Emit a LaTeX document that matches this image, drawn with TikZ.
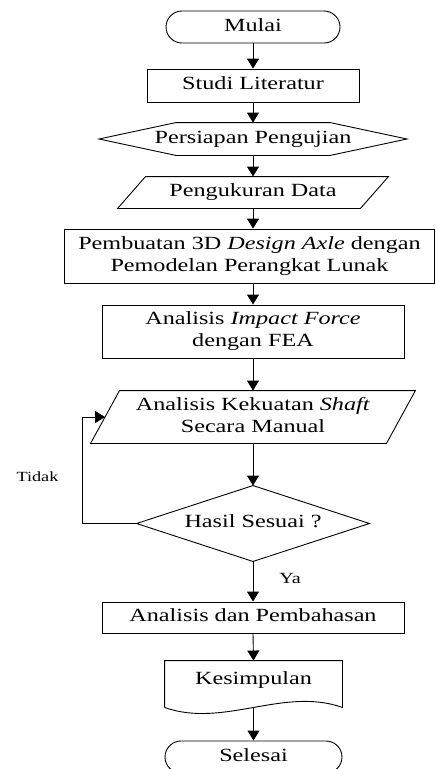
\documentclass[tikz,border=0pt]{standalone}
\usepackage{fontspec}
\usepackage{graphicx}
\setmainfont{Liberation Serif}
\usetikzlibrary{arrows.meta,calc}

% widened serif lettering, one or more centred lines
\newcommand{\wide}[1]{\scalebox{1.3}[1]{\begin{tabular}{@{}c@{}}#1\end{tabular}}}

\tikzset{
  base/.style={rectangle, inner sep=0pt, font=\fontsize{18.6}{21.7}\selectfont},
  procbox/.style={base, draw},
  termbox/.style={base, draw, rounded corners=16pt},
  ghost/.style={base},
  outline/.style={draw, line join=miter},
  arr/.style={-{Triangle[length=10pt,width=12pt]}},
  smalllabel/.style={inner sep=0pt},
}

\begin{document}
\begin{tikzpicture}[x=1pt,y=-1pt,line width=0.9pt]
\fill[white] (0,0) rectangle (436,769);
\useasboundingbox (0,0) rectangle (436,769);

% start
\node[termbox, minimum width=174pt, minimum height=32pt] (mulai) at (253,27) {\wide{Mulai}};

% literature study
\node[procbox, minimum width=212pt, minimum height=33pt] (studi) at (253,85.5) {\wide{Studi Literatur}};

% preparation (hexagon)
\node[ghost, minimum width=307pt, minimum height=32pt] (persiapan) at (253,139) {\wide{Persiapan Pengujian}};
\draw[outline] (persiapan.west) -- ([xshift=-77pt]persiapan.north) -- ([xshift=77pt]persiapan.north)
  -- (persiapan.east) -- ([xshift=77pt]persiapan.south) -- ([xshift=-77pt]persiapan.south) -- cycle;

% data measurement (parallelogram)
\node[ghost, minimum width=270pt, minimum height=31pt] (ukur) at (253,192.5) {\wide{Pengukuran Data}};
\draw[outline] ([xshift=28pt]ukur.north west) -- (ukur.north east)
  -- ([xshift=-28pt]ukur.south east) -- (ukur.south west) -- cycle;

% 3D design
\node[procbox, minimum width=370pt, minimum height=54pt] (desain) at (249.5,256)
  {\wide{Pembuatan 3D \textit{Design Axle} dengan\\Pemodelan Perangkat Lunak}};

% impact force analysis
\node[procbox, minimum width=302pt, minimum height=53pt] (impact) at (253,331.5)
  {\wide{Analisis \textit{Impact Force}\\dengan FEA}};

% manual shaft analysis (parallelogram)
\node[ghost, minimum width=324pt, minimum height=52pt] (kekuatan) at (253,417)
  {\wide{Analisis Kekuatan \textit{Shaft}\\Secara Manual}};
\draw[outline] ([xshift=29pt]kekuatan.north west) -- (kekuatan.north east)
  -- ([xshift=-29pt]kekuatan.south east) -- (kekuatan.south west) -- cycle;
\coordinate (kekL) at ($([xshift=29pt]kekuatan.north west)!0.5!(kekuatan.south west)$);

% decision (diamond)
\node[ghost, minimum width=232pt, minimum height=75pt] (hasil) at (253,523.5) {\wide{Hasil Sesuai ?}};
\draw[outline] (hasil.west) -- (hasil.north) -- (hasil.east) -- (hasil.south) -- cycle;

% discussion
\node[procbox, minimum width=302pt, minimum height=31pt] (bahas) at (253,617.5) {\wide{Analisis dan Pembahasan}};

% conclusion (document shape)
\node[ghost, minimum width=177pt, minimum height=38pt] (simpul) at (253.5,680) {\wide{Kesimpulan}};
\draw[outline] ($(simpul.south west)+(0,8)$) -- (simpul.north west) -- (simpul.north east)
  -- ($(simpul.south east)+(0,8)$)
  .. controls ($(simpul.south east)+(-59,-13)$) and ($(simpul.south west)+(59,29)$) .. ($(simpul.south west)+(0,8)$);
\coordinate (simpulB) at ($(simpul.south)+(0,8)$);

% end
\node[termbox, minimum width=177pt, minimum height=32pt] (selesai) at (253.5,757) {\wide{Selesai}};

% connectors
\draw[arr] (mulai.south) -- (studi.north);
\draw[arr] (studi.south) -- (persiapan.north);
\draw[arr] (persiapan.south) -- (ukur.north);
\draw[arr] (ukur.south) -- (ukur.south |- desain.north);
\draw[arr] (desain.south -| impact.north) -- (impact.north);
\draw[arr] (impact.south) -- (kekuatan.north);
\draw[arr] (kekuatan.south) -- (hasil.north);
\draw[arr] (hasil.south) -- (bahas.north);
\draw[arr] (bahas.south) -- (simpul.north);
\draw[arr] (simpulB) -- (selesai.north);

% loop back when the result does not fit
\coordinate (loop) at (82,523.5);
\draw[arr] (hasil.west) -- (loop) |- (kekL);

% branch labels
\node[smalllabel, font=\fontsize{14}{16}\selectfont] (tidak) at (37.5,477) {\scalebox{1.3}[1]{Tidak}};
\node[smalllabel, font=\fontsize{15.5}{18}\selectfont] (ya) at (290,578) {\scalebox{1.3}[1]{Ya}};
\end{tikzpicture}
\end{document}
